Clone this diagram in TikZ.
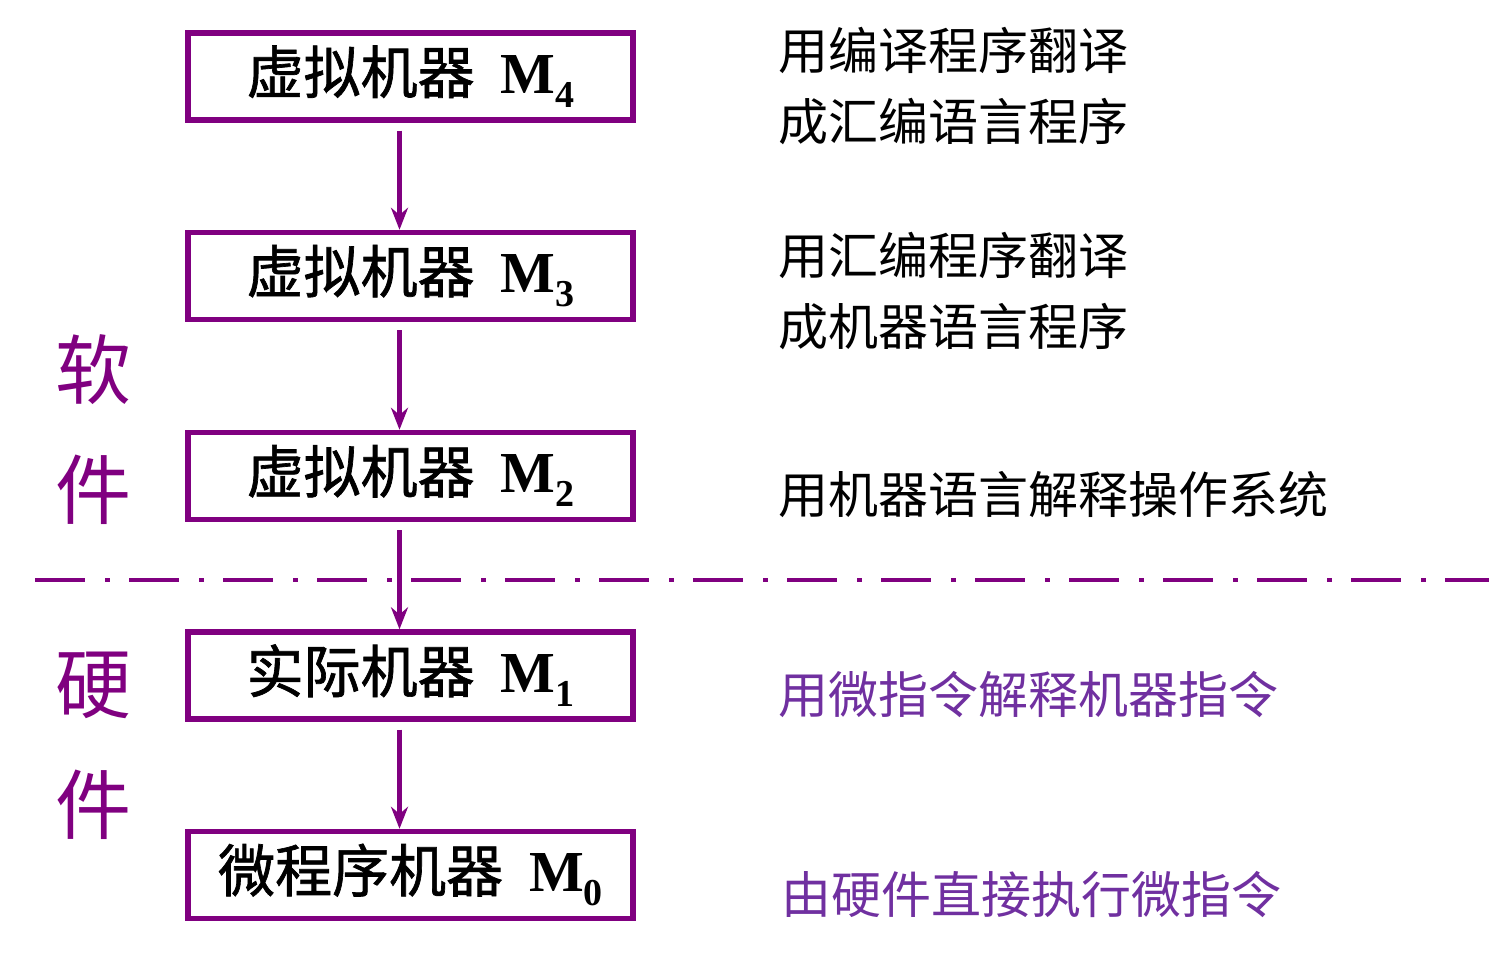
\documentclass[tikz,border=0pt]{standalone}
\usepackage{fontspec}
\usepackage{xcolor}
\usepackage{tikz}
\usetikzlibrary{arrows.meta,positioning,calc}
\newfontfamily\cjk{Noto Sans CJK SC}
\newfontfamily\cjkb[FakeBold=1.2]{Noto Sans CJK SC}
\newfontfamily\tnr{Liberation Serif}
\definecolor{mpurple}{HTML}{800080}
\definecolor{lpurple}{HTML}{7030A0}
\newcommand{\Mi}[1]{\hspace{13pt}{\tnr\bfseries\fontsize{29}{29}\selectfont M\raisebox{-7pt}{\fontsize{19}{19}\selectfont #1}}}

\begin{document}
\begin{tikzpicture}[>={Stealth[length=11pt,width=8.5pt]}, x=0.5pt, y=-0.5pt,
mbox/.style={draw=mpurple, line width=2.7pt, minimum width=222.5pt, minimum height=43.5pt, inner sep=0pt, font=\cjkb\fontsize{28.5}{29}\selectfont},
arr/.style={->, draw=mpurple, line width=2.2pt},
note/.style={anchor=west, inner sep=0pt, font=\cjk\fontsize{25}{30}\selectfont},
side/.style={text=mpurple, inner sep=0pt, font=\cjk\fontsize{38}{38}\selectfont},
sep/.style={draw=mpurple, line width=2.3pt, dash pattern=on 25pt off 10pt on 2.5pt off 9.5pt}
]
\useasboundingbox (0,0) rectangle (1489,953);
% the machine levels
\node[mbox] (m4) at (410.5,76.5) {虚拟机器\Mi{4}};
\node[mbox] (m3) at (410.5,276) {虚拟机器\Mi{3}};
\node[mbox] (m2) at (410.5,476) {虚拟机器\Mi{2}};
\node[mbox] (m1) at (410.5,675.5) {实际机器\Mi{1}};
\node[mbox] (m0) at (410.5,875) {微程序机器\Mi{0}};
% arrows between levels
\draw[arr] ([xshift=-5.5pt,yshift=-4pt]m4.south) -- ([xshift=-5.5pt]m3.north);
\draw[arr] ([xshift=-5.5pt,yshift=-4pt]m3.south) -- ([xshift=-5.5pt]m2.north);
\draw[arr] ([xshift=-5.5pt,yshift=-4pt]m2.south) -- ([xshift=-5.5pt]m1.north);
\draw[arr] ([xshift=-5.5pt,yshift=-4pt]m1.south) -- ([xshift=-5.5pt]m0.north);
% software / hardware border
\coordinate (sepl) at (35,580);
\coordinate (sepr) at (1489,580);
\draw[sep] (sepl) -- (sepr);
% side labels
\node[side] (ruan) at (93,370) {软};
\node[side] (jian1) at (93,490) {件};
\node[side] (ying) at (93,685) {硬};
\node[side] (jian2) at (93,805) {件};
% notes
\node[note] (n4a) at (778,50) {用编译程序翻译};
\node[note] (n4b) at (778,122) {成汇编语言程序};
\node[note] (n3a) at (778,255) {用汇编程序翻译};
\node[note] (n3b) at (778,327) {成机器语言程序};
\node[note] (n2) at (778,495) {用机器语言解释操作系统};
\node[note, text=lpurple] (n1) at (778,695) {用微指令解释机器指令};
\node[note, text=lpurple] (n0) at (781,895) {由硬件直接执行微指令};
\end{tikzpicture}
\end{document}
